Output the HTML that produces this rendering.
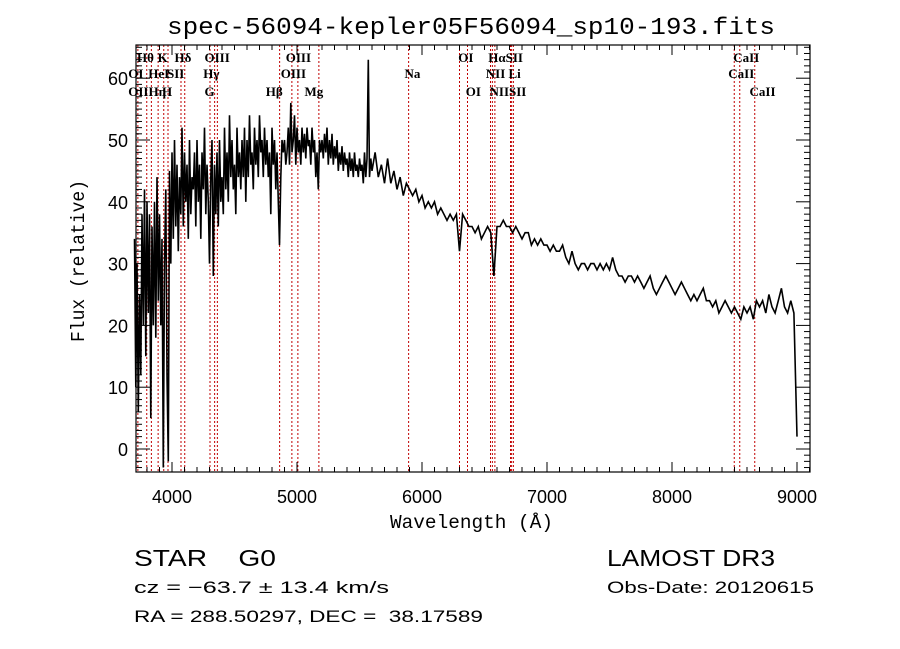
<!DOCTYPE html>
<html><head><meta charset="utf-8"><title>spec-56094-kepler05F56094_sp10-193.fits</title>
<style>
html,body{margin:0;padding:0;background:#fff;}
svg{display:block;}
text{white-space:pre;}
.t{font-family:"Liberation Sans",sans-serif;fill:#000;}
.m{font-family:"Liberation Mono",monospace;fill:#000;}
.s{font-family:"Liberation Serif",serif;fill:#000;font-size:13px;font-weight:bold;}
</style></head>
<body>
<svg id="chart" width="900" height="649" viewBox="0 0 900 649" xmlns="http://www.w3.org/2000/svg">
<rect width="900" height="649" fill="#fff"/>
<text class="m" x="167" y="34" font-size="24" textLength="608" lengthAdjust="spacingAndGlyphs">spec-56094-kepler05F56094_sp10-193.fits</text>
<g id="lines"></g>
<g id="labels"></g>
<g id="spec"></g>
<g id="axes"></g>
<text class="m" x="390" y="528" font-size="19" textLength="163" lengthAdjust="spacingAndGlyphs">Wavelength (Å)</text>
<text class="m" transform="translate(84,342) rotate(-90)" font-size="19" textLength="162" lengthAdjust="spacingAndGlyphs">Flux (relative)</text>
<text class="t" x="134" y="566" font-size="23" textLength="142" lengthAdjust="spacingAndGlyphs">STAR    G0</text>
<text class="t" x="134" y="593" font-size="17" textLength="255" lengthAdjust="spacingAndGlyphs">cz = −63.7 ± 13.4 km/s</text>
<text class="t" x="134" y="622" font-size="17" textLength="349" lengthAdjust="spacingAndGlyphs">RA = 288.50297, DEC =  38.17589</text>
<text class="t" x="607" y="566" font-size="23" textLength="168" lengthAdjust="spacingAndGlyphs">LAMOST DR3</text>
<text class="t" x="607" y="593" font-size="17" textLength="207" lengthAdjust="spacingAndGlyphs">Obs-Date: 20120615</text>
</svg>
<script>
const xTicks = [4000,5000,6000,7000,8000,9000];
const yTicks = [0,10,20,30,40,50,60];
const blueStart = 3700;
const blueStep = 10;
const blueFlux = [
34,10,30,6,25,12,38,20,42,15,40,22,38,5,36,20,40,18,44,24,38,20,34,-3,30,42,12,-2,45,30,
48,34,50,36,46,32,44,38,52,36,48,40,46,34,50,38,44,42,48,36,50,40,46,34,48,42,52,38,46,40,
30,44,50,28,46,38,48,36,50,40,44,38,52,42,48,40,54,44,50,42,46,38,52,44,48,42,50,44,52,40,
50,44,54,46,48,42,52,46,50,44,54,48,50,44,52,46,50,44,48,38,52,46,50,42,48,40,33,44,50,48,
50,46,48,52,46,56,48,50,54,46,52,48,50,46,52,48,51,47,52,49,50,46,52,48,50,44,48,42,50,48,
50,47,51,48,52,46,50,47,51,46,49,47,50,45,48,46,49,45,48,46,47,44,48,45,47,44,48,45,46,44,
47,45,46,43,48,44,47,63,44,47
];
const redStart = 5600;
const redStep = 25;
const redFlux = [
45,48,44,46,
43,47,43,45,42,44,41,43,42,41,42,40,41,39,40,39,40,38,39,38,
37,38,37,38,32,38,37,36,36,35,36,34,35,36,35,28,36,36,37,36,
36,35,36,35,34,35,35,33,34,33,34,33,33,32,33,32,32,33,31,30,
32,30,29,30,30,29,30,30,29,30,29,30,29,31,29,28,28,27,28,28,
27,28,27,26,27,28,26,25,26,27,28,27,26,25,26,27,26,25,24,25,
24,25,26,24,24,23,24,22,23,24,23,22,23,22,21,23,22,23,21,24,
23,24,22,25,23,22,24,26,23,22,24,22,2
];
const lineWl = [3727,3798,3835,3889,3934,3968,4072,4102,4304,4341,4363,4861,4959,5007,5175,5893,6300,6364,6548,6563,6583,6708,6717,6731,8498,8542,8662];
const labelText = ["Hθ","K","Hδ","OIII","OIII","OI","HαSII","CaII",
  "OI","HeI","SII","Hγ","OIII","Na","NII Li","CaII",
  "OIIHη","H","G","Hβ","Mg","OI","NIISII","CaII"];
const labelWl = [3720,3885,4020,4260,4910,6290,6530,8490,
  3650,3810,3960,4250,4870,5860,6510,8450,
  3650,3920,4260,4750,5060,6350,6540,8620];
const labelRow = [0,0,0,0,0,0,0,0, 1,1,1,1,1,1,1,1, 2,2,2,2,2,2,2,2];

const NS='http://www.w3.org/2000/svg';
const L=136,R=810,T=45,B=472;
function xs(w){return 134.5+(w-3700)*0.125;}
function ys(v){return 449-6.18*v;}
function mk(tag,attrs,parent){const e=document.createElementNS(NS,tag);for(const k in attrs)e.setAttribute(k,attrs[k]);parent.appendChild(e);return e;}

const gl=document.getElementById('lines');
lineWl.forEach(w=>{
  const e=mk('line',{x1:xs(w),x2:xs(w),y1:T,y2:B,stroke:'#c00000','stroke-width':1,'stroke-dasharray':'2,2'},gl);
  
  
});
const glab=document.getElementById('labels');
const rowY=[62,78,96];
labelText.forEach((t,i)=>{
  const e=mk('text',{x:xs(labelWl[i]),y:rowY[labelRow[i]],class:'s'},glab);
  e.textContent=t;
  
  
});

const gs=document.getElementById('spec');
let d='';
blueFlux.forEach((v,i)=>{const x=xs(blueStart+i*blueStep);const y=Math.min(B,ys(v));d+=(i?'L':'M')+x.toFixed(1)+','+y.toFixed(1);});
redFlux.forEach((v,i)=>{const x=xs(redStart+i*redStep);const y=Math.min(B,ys(v));d+='L'+x.toFixed(1)+','+y.toFixed(1);});
const p=mk('path',{d:d,fill:'none',stroke:'#000','stroke-width':1.6,'stroke-linejoin':'miter'},gs);



const ga=document.getElementById('axes');
const fr=mk('rect',{x:L,y:T,width:R-L,height:B-T,fill:'none',stroke:'#000','stroke-width':1.2},ga);


for(let w=3800;w<=9100;w+=100){
  const x=xs(w);const major=(w%1000===0);const len=major?10:5;
  mk('line',{x1:x,x2:x,y1:B,y2:B-len,stroke:'#000','stroke-width':1},ga);
  mk('line',{x1:x,x2:x,y1:T,y2:T+len,stroke:'#000','stroke-width':1},ga);
}
for(let v=-3;v<=65;v+=1){
  const y=ys(v);const major=(v%10===0);const len=major?14:6;
  mk('line',{x1:L,x2:L+len,y1:y,y2:y,stroke:'#000','stroke-width':1},ga);
  mk('line',{x1:R,x2:R-len,y1:y,y2:y,stroke:'#000','stroke-width':1},ga);
}
xTicks.forEach(w=>{
  const e=mk('text',{x:xs(w),y:503,'text-anchor':'middle',class:'t','font-size':18},ga);
  e.textContent=w;
  
  
});
yTicks.forEach(v=>{
  const e=mk('text',{x:128,y:ys(v)+7,'text-anchor':'end',class:'t','font-size':18},ga);
  e.textContent=v;
  
  
});
</script>
</body></html>
